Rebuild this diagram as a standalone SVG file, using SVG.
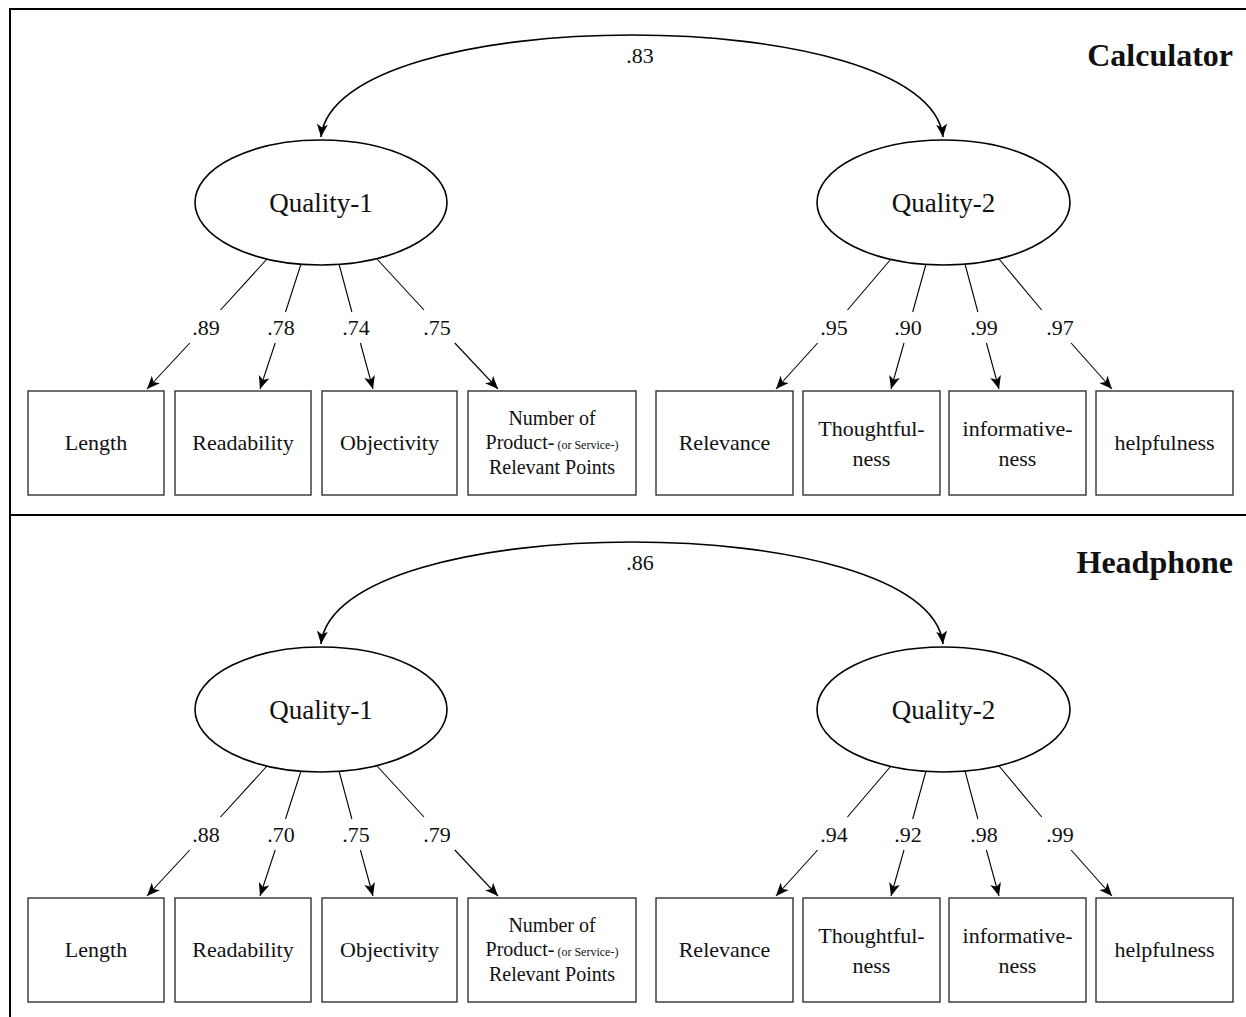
<svg xmlns="http://www.w3.org/2000/svg" width="1246" height="1017" viewBox="0 0 1246 1017">
<defs>
<style>
text{font-family:"Liberation Serif","Times New Roman",serif;fill:#111;text-anchor:middle}
.frame{fill:none;stroke:#000;stroke-width:2}
.lat{fill:#fff;stroke:#000;stroke-width:1.6}
.box{fill:#fff;stroke:#333;stroke-width:1.4}
.lt{font-size:27px}
.bt{font-size:22px}
.nt{font-size:20px}
.sm{font-size:12px}
.ld{font-size:22px}
.ttl{font-size:32px;font-weight:bold;text-anchor:end}
.ln{fill:none;stroke:#000;stroke-width:1.1}
.arc{fill:none;stroke:#000;stroke-width:1.6}
</style>
<marker id="ah" markerUnits="userSpaceOnUse" markerWidth="15" markerHeight="12" refX="13" refY="5.5" orient="auto-start-reverse" viewBox="0 0 15 11">
<path d="M0,0 L13,5.5 L0,11 L3.5,5.5 z" fill="#000"/>
</marker>
</defs>
<rect width="1246" height="1017" fill="#fff"/>
<g id="frame">
<path class="frame" d="M10,1017 V9 H1246 M10,515 H1246"/>
</g>

<g id="panel-calculator">
<text id="title-calculator" class="ttl" x="1233" y="66">Calculator</text>
<g id="connectors-calculator">
<path class="arc" d="M321,137 C335,1 929,1 943,137" marker-start="url(#ah)" marker-end="url(#ah)"/>
<text class="ld" x="640" y="63">.83</text>
<path class="ln" d="M267,259 L220.5,310"/><path class="ln" d="M189.8,343 L147,389" marker-end="url(#ah)"/>
<text class="ld" x="206" y="335">.89</text>
<path class="ln" d="M301,264 L285.5,312"/><path class="ln" d="M275.2,343 L260,389" marker-end="url(#ah)"/>
<text class="ld" x="281" y="335">.78</text>
<path class="ln" d="M339,264 L351.9,312"/><path class="ln" d="M360.4,343 L373,389" marker-end="url(#ah)"/>
<text class="ld" x="356" y="335">.74</text>
<path class="ln" d="M377,259 L424,310"/><path class="ln" d="M454.8,343 L498,389" marker-end="url(#ah)"/>
<text class="ld" x="437" y="335">.75</text>
<path class="ln" d="M891,259 L847.5,310"/><path class="ln" d="M817.6,343 L776,389" marker-end="url(#ah)"/>
<text class="ld" x="834" y="335">.95</text>
<path class="ln" d="M926,264 L912.7,312"/><path class="ln" d="M904,343 L891,389" marker-end="url(#ah)"/>
<text class="ld" x="908" y="335">.90</text>
<path class="ln" d="M965,264 L977.9,312"/><path class="ln" d="M986.4,343 L999,389" marker-end="url(#ah)"/>
<text class="ld" x="984" y="335">.99</text>
<path class="ln" d="M999,259 L1041.7,310"/><path class="ln" d="M1071.1,343 L1112,389" marker-end="url(#ah)"/>
<text class="ld" x="1060" y="335">.97</text>
</g>
<g id="c-quality1"><ellipse class="lat" cx="321" cy="202.5" rx="126" ry="62.5"/><text class="lt" x="321" y="212">Quality-1</text></g>
<g id="c-quality2"><ellipse class="lat" cx="943.5" cy="202.5" rx="126.5" ry="62.5"/><text class="lt" x="943.5" y="212">Quality-2</text></g>
<g id="c-length"><rect class="box" x="28" y="391" width="136" height="104"/><text class="bt" x="96" y="450">Length</text></g>
<g id="c-readability"><rect class="box" x="175" y="391" width="136" height="104"/><text class="bt" x="243" y="450">Readability</text></g>
<g id="c-objectivity"><rect class="box" x="322" y="391" width="135" height="104"/><text class="bt" x="389.5" y="450">Objectivity</text></g>
<g id="c-number"><rect class="box" x="468" y="391" width="168" height="104"/><text class="nt" x="552" y="425">Number of</text><text class="nt" x="552" y="449">Product-<tspan class="sm"> (or Service-)</tspan></text><text class="nt" x="552" y="474">Relevant Points</text></g>
<g id="c-relevance"><rect class="box" x="656" y="391" width="137" height="104"/><text class="bt" x="724.5" y="450">Relevance</text></g>
<g id="c-thoughtfulness"><rect class="box" x="803" y="391" width="137" height="104"/><text class="bt" x="871.5" y="436">Thoughtful-</text><text class="bt" x="871.5" y="466">ness</text></g>
<g id="c-informativeness"><rect class="box" x="949" y="391" width="137" height="104"/><text class="bt" x="1017.5" y="436">informative-</text><text class="bt" x="1017.5" y="466">ness</text></g>
<g id="c-helpfulness"><rect class="box" x="1096" y="391" width="137" height="104"/><text class="bt" x="1164.5" y="450">helpfulness</text></g>
</g>

<g id="panel-headphone" transform="translate(0,507)">
<text id="title-headphone" class="ttl" x="1233" y="66">Headphone</text>
<g id="connectors-headphone">
<path class="arc" d="M321,137 C335,1 929,1 943,137" marker-start="url(#ah)" marker-end="url(#ah)"/>
<text class="ld" x="640" y="63">.86</text>
<path class="ln" d="M267,259 L220.5,310"/><path class="ln" d="M189.8,343 L147,389" marker-end="url(#ah)"/>
<text class="ld" x="206" y="335">.88</text>
<path class="ln" d="M301,264 L285.5,312"/><path class="ln" d="M275.2,343 L260,389" marker-end="url(#ah)"/>
<text class="ld" x="281" y="335">.70</text>
<path class="ln" d="M339,264 L351.9,312"/><path class="ln" d="M360.4,343 L373,389" marker-end="url(#ah)"/>
<text class="ld" x="356" y="335">.75</text>
<path class="ln" d="M377,259 L424,310"/><path class="ln" d="M454.8,343 L498,389" marker-end="url(#ah)"/>
<text class="ld" x="437" y="335">.79</text>
<path class="ln" d="M891,259 L847.5,310"/><path class="ln" d="M817.6,343 L776,389" marker-end="url(#ah)"/>
<text class="ld" x="834" y="335">.94</text>
<path class="ln" d="M926,264 L912.7,312"/><path class="ln" d="M904,343 L891,389" marker-end="url(#ah)"/>
<text class="ld" x="908" y="335">.92</text>
<path class="ln" d="M965,264 L977.9,312"/><path class="ln" d="M986.4,343 L999,389" marker-end="url(#ah)"/>
<text class="ld" x="984" y="335">.98</text>
<path class="ln" d="M999,259 L1041.7,310"/><path class="ln" d="M1071.1,343 L1112,389" marker-end="url(#ah)"/>
<text class="ld" x="1060" y="335">.99</text>
</g>
<g id="h-quality1"><ellipse class="lat" cx="321" cy="202.5" rx="126" ry="62.5"/><text class="lt" x="321" y="212">Quality-1</text></g>
<g id="h-quality2"><ellipse class="lat" cx="943.5" cy="202.5" rx="126.5" ry="62.5"/><text class="lt" x="943.5" y="212">Quality-2</text></g>
<g id="h-length"><rect class="box" x="28" y="391" width="136" height="104"/><text class="bt" x="96" y="450">Length</text></g>
<g id="h-readability"><rect class="box" x="175" y="391" width="136" height="104"/><text class="bt" x="243" y="450">Readability</text></g>
<g id="h-objectivity"><rect class="box" x="322" y="391" width="135" height="104"/><text class="bt" x="389.5" y="450">Objectivity</text></g>
<g id="h-number"><rect class="box" x="468" y="391" width="168" height="104"/><text class="nt" x="552" y="425">Number of</text><text class="nt" x="552" y="449">Product-<tspan class="sm"> (or Service-)</tspan></text><text class="nt" x="552" y="474">Relevant Points</text></g>
<g id="h-relevance"><rect class="box" x="656" y="391" width="137" height="104"/><text class="bt" x="724.5" y="450">Relevance</text></g>
<g id="h-thoughtfulness"><rect class="box" x="803" y="391" width="137" height="104"/><text class="bt" x="871.5" y="436">Thoughtful-</text><text class="bt" x="871.5" y="466">ness</text></g>
<g id="h-informativeness"><rect class="box" x="949" y="391" width="137" height="104"/><text class="bt" x="1017.5" y="436">informative-</text><text class="bt" x="1017.5" y="466">ness</text></g>
<g id="h-helpfulness"><rect class="box" x="1096" y="391" width="137" height="104"/><text class="bt" x="1164.5" y="450">helpfulness</text></g>
</g>
</svg>
